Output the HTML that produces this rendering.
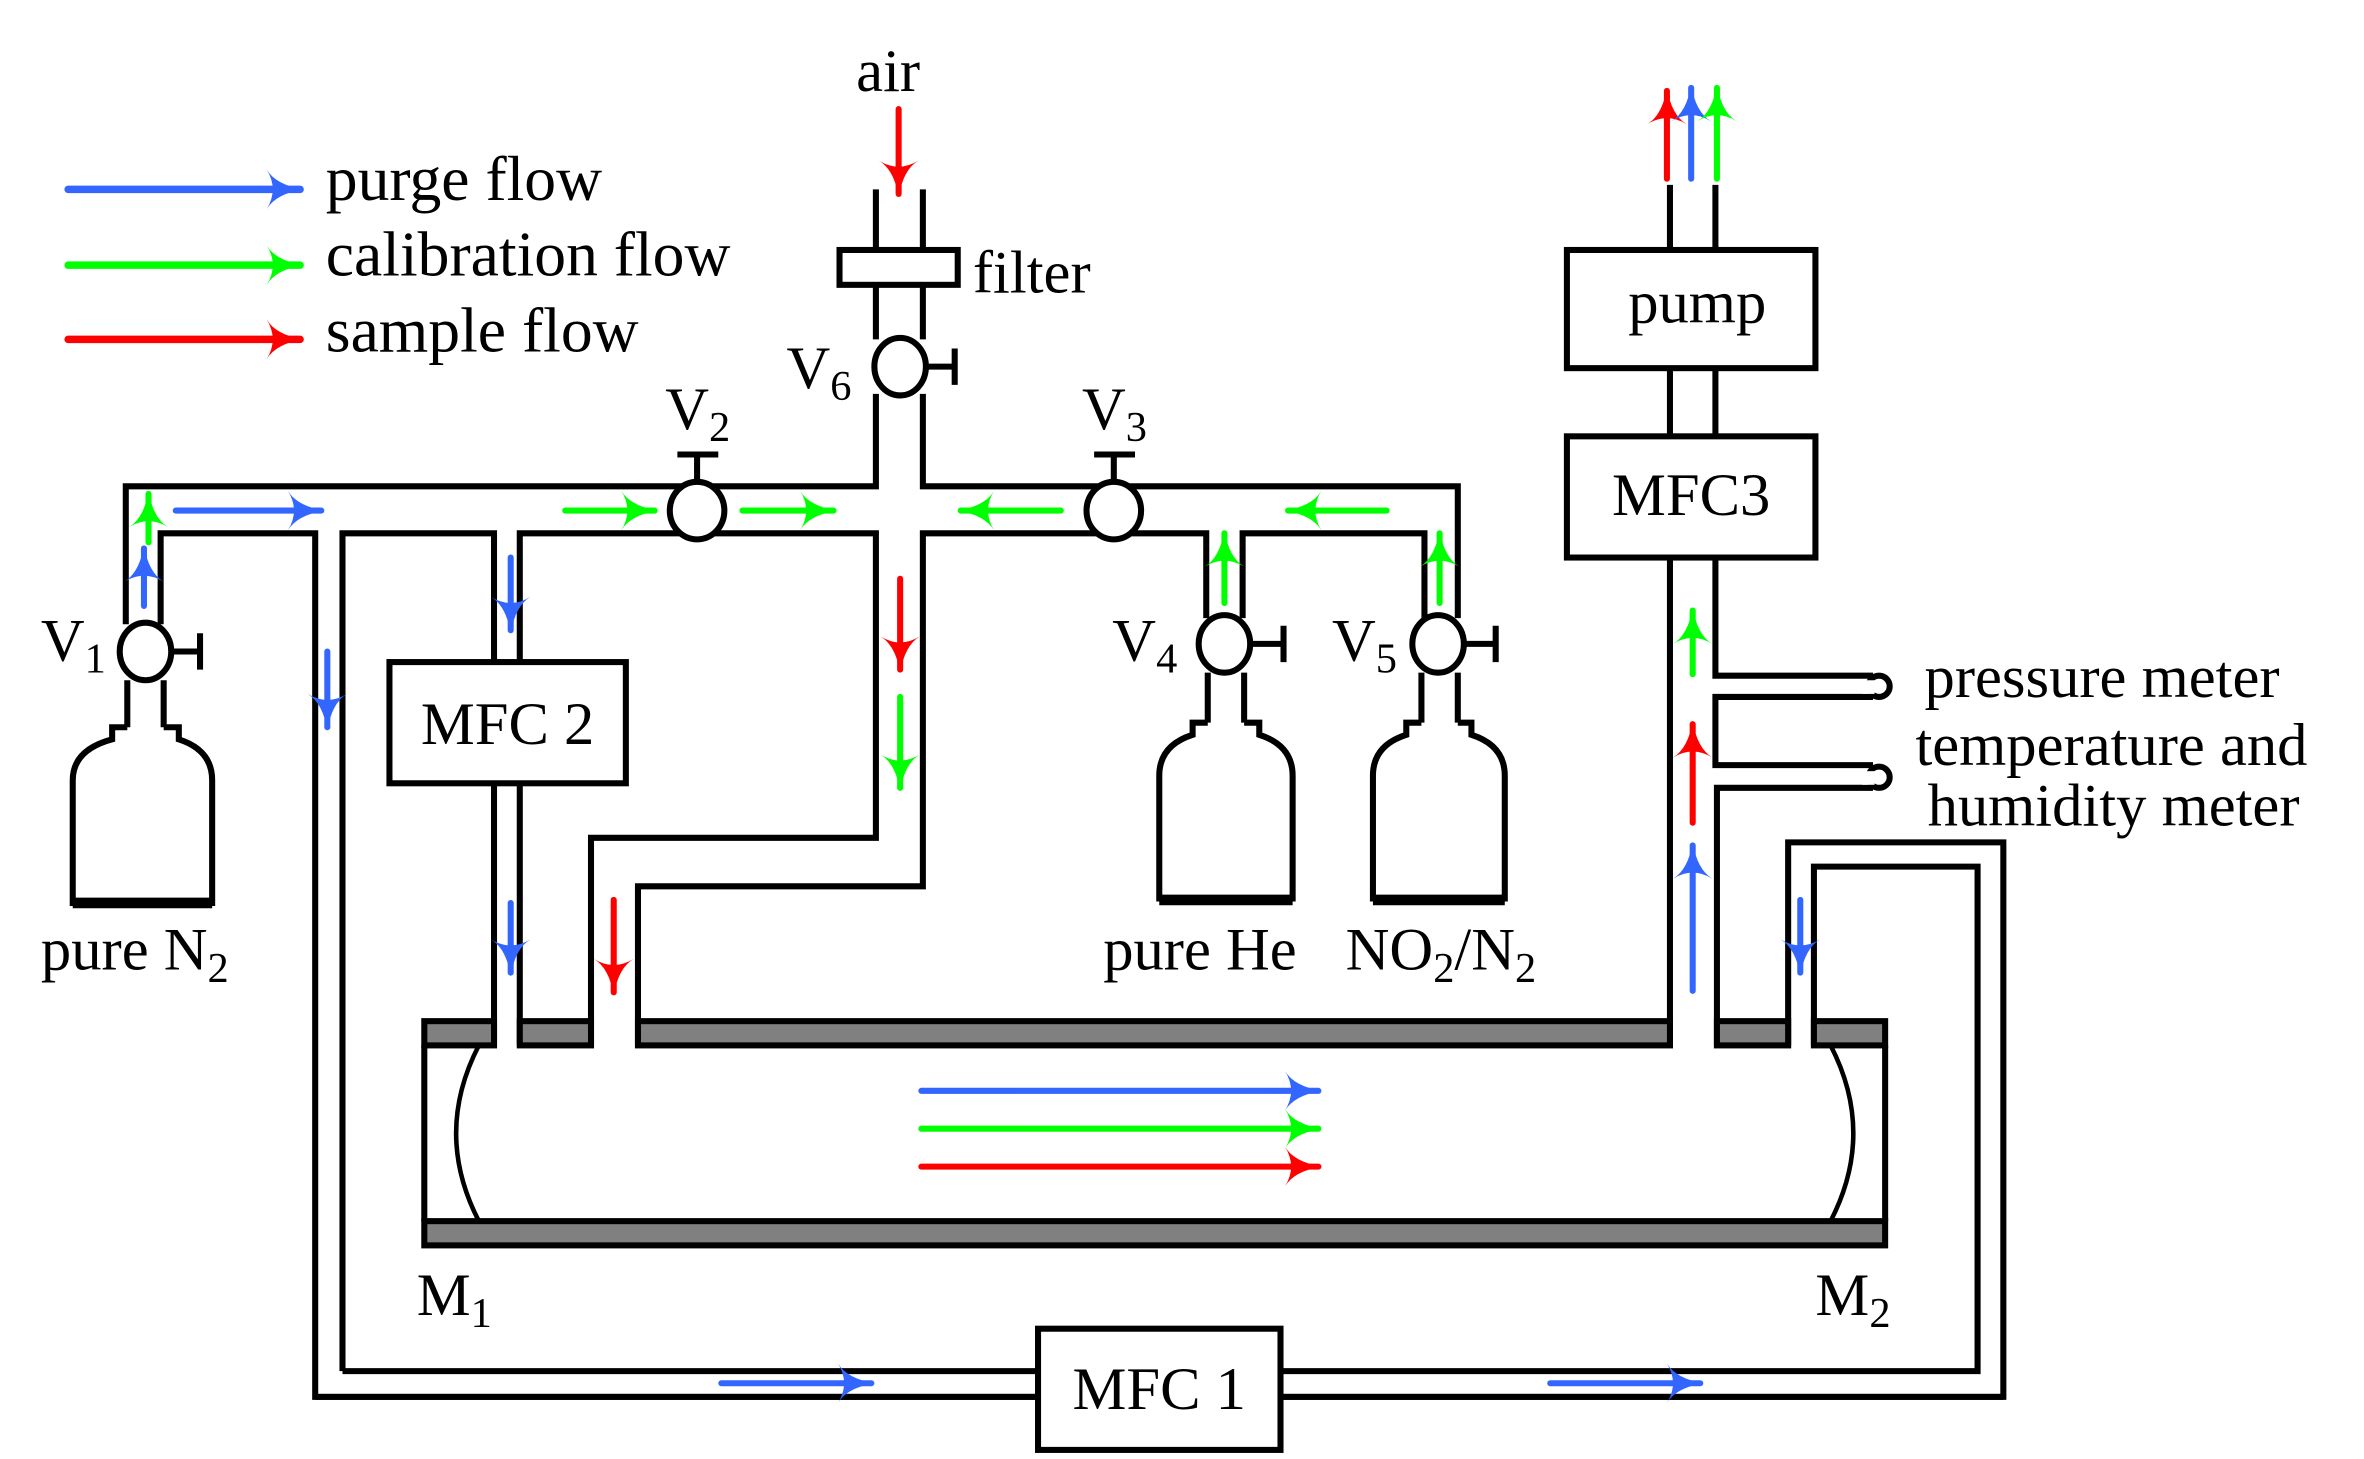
<!DOCTYPE html>
<html><head><meta charset="utf-8"><style>
html,body{margin:0;padding:0;background:#fff;}
svg{display:block;}
text{font-family:"Liberation Serif",serif;fill:#000;}
</style></head><body>
<svg width="2364" height="1459" viewBox="0 0 1560 963" preserveAspectRatio="none" xmlns="http://www.w3.org/2000/svg">
<defs>
<marker id="mb" markerUnits="userSpaceOnUse" markerWidth="30" markerHeight="30" refX="24" refY="15" orient="auto"><path d="M2,2 Q8,12 26,15 Q8,18 2,28 Q10,15 2,2z" fill="#3366ff"/></marker>
<marker id="mg" markerUnits="userSpaceOnUse" markerWidth="30" markerHeight="30" refX="24" refY="15" orient="auto"><path d="M2,2 Q8,12 26,15 Q8,18 2,28 Q10,15 2,2z" fill="#00ff00"/></marker>
<marker id="mr" markerUnits="userSpaceOnUse" markerWidth="30" markerHeight="30" refX="24" refY="15" orient="auto"><path d="M2,2 Q8,12 26,15 Q8,18 2,28 Q10,15 2,2z" fill="#ff0000"/></marker>
<marker id="ms" markerUnits="userSpaceOnUse" markerWidth="24" markerHeight="24" refX="19" refY="12" orient="auto"><path d="M2,2 Q7,10 21,12 Q7,14 2,22 Q8,12 2,2z" fill="context-stroke"/></marker>
</defs>
<g stroke-linecap="round" fill="none">
<line x1="45" y1="125" x2="198" y2="125" stroke="#3366ff" stroke-width="5" marker-end="url(#mb)"/>
<line x1="45" y1="175" x2="198" y2="175" stroke="#00ff00" stroke-width="5" marker-end="url(#mg)"/>
<line x1="45" y1="224" x2="198" y2="224" stroke="#ff0000" stroke-width="5" marker-end="url(#mr)"/>
</g>
<text x="215" y="132" font-size="42">purge flow</text>
<text x="215" y="182" font-size="42">calibration flow</text>
<text x="215" y="232" font-size="42">sample flow</text>
<text x="565" y="60" font-size="40">air</text>
<text x="642" y="193" font-size="40">filter</text>

<g stroke="#000" stroke-width="4" fill="none" stroke-linejoin="miter">
<line x1="578" y1="125" x2="578" y2="165"/><line x1="609" y1="125" x2="609" y2="165"/>
<rect x="554" y="165" width="78" height="23" fill="#fff"/>
<line x1="578" y1="188" x2="578" y2="224"/><line x1="609" y1="188" x2="609" y2="224"/>
<ellipse cx="594" cy="242" rx="17" ry="19" fill="#fff"/>
<line x1="611" y1="242" x2="630" y2="242"/><line x1="630" y1="230" x2="630" y2="254"/>
<polyline points="83,412 83,321 578,321 578,260"/>
<polyline points="609,260 609,321 962,321 962,408"/>
<polyline points="106,412 106,352 208,352 208,922 1322,922 1322,556 1180,556 1180,690"/>
<polyline points="226,905 226,352 326,352 326,437"/>
<polyline points="343,437 343,352 578,352 578,553 390,553 390,690"/>
<polyline points="421,690 421,585 609,585 609,352 796,352 796,408"/>
<polyline points="820,408 820,352 940,352 940,408"/>
<polyline points="226,905 685,905"/><polyline points="845,905 1305,905 1305,572 1197,572 1197,690"/>
<line x1="208" y1="922" x2="685" y2="922"/>
<ellipse cx="460" cy="337" rx="18" ry="19" fill="#fff"/><line x1="460" y1="318" x2="460" y2="300"/><line x1="447" y1="300" x2="474" y2="300"/>
<ellipse cx="735" cy="337" rx="18" ry="19" fill="#fff"/><line x1="735" y1="318" x2="735" y2="300"/><line x1="722" y1="300" x2="749" y2="300"/>
<ellipse cx="96" cy="430" rx="17" ry="19" fill="#fff"/><line x1="113" y1="430" x2="132" y2="430"/><line x1="132" y1="418" x2="132" y2="442"/>
<line x1="84" y1="449" x2="84" y2="480"/><line x1="108" y1="449" x2="108" y2="480"/>
<path d="M84,480 H74 V488 Q48,495 48,515 V596 H140 V515 Q140,495 118,488 V480 H108"/>
<line x1="48" y1="596" x2="140" y2="596" stroke-width="7"/>
<ellipse cx="808" cy="425" rx="17" ry="19" fill="#fff"/><line x1="825" y1="425" x2="847" y2="425"/><line x1="847" y1="413" x2="847" y2="437"/>
<line x1="797" y1="444" x2="797" y2="477"/><line x1="821" y1="444" x2="821" y2="477"/>
<path d="M797,477 H787 V485 Q765,492 765,512 V593 H853 V512 Q853,492 831,485 V477 H821"/>
<line x1="765" y1="594" x2="853" y2="594" stroke-width="7"/>
<ellipse cx="949" cy="425" rx="17" ry="19" fill="#fff"/><line x1="966" y1="425" x2="987" y2="425"/><line x1="987" y1="413" x2="987" y2="437"/>
<line x1="938" y1="444" x2="938" y2="477"/><line x1="962" y1="444" x2="962" y2="477"/>
<path d="M938,477 H928 V485 Q906,492 906,512 V593 H993 V512 Q993,492 971,485 V477 H962"/>
<line x1="906" y1="594" x2="993" y2="594" stroke-width="7"/>
<rect x="257" y="437" width="156" height="80" fill="#fff"/>
<line x1="326" y1="517" x2="326" y2="690"/><line x1="343" y1="517" x2="343" y2="690"/>
<line x1="1102" y1="122" x2="1102" y2="165"/><line x1="1132" y1="122" x2="1132" y2="165"/>
<rect x="1034" y="165" width="164" height="78" fill="#fff"/>
<line x1="1102" y1="243" x2="1102" y2="288"/><line x1="1132" y1="243" x2="1132" y2="288"/>
<rect x="1034" y="288" width="164" height="80" fill="#fff"/>
<line x1="1102" y1="368" x2="1102" y2="690"/>
<polyline points="1132,368 1132,446 1236,446"/>
<polyline points="1236,460 1132,460 1132,505 1236,505"/>
<polyline points="1236,520 1133,520 1133,690"/>
<circle cx="1240" cy="453" r="7" fill="#fff"/>
<circle cx="1240" cy="513" r="7" fill="#fff"/>
<rect x="685" y="877" width="160" height="80" fill="#fff"/>
<line x1="845" y1="922" x2="1322" y2="922"/>
</g>
<rect x="1229" y="449" width="8" height="9" fill="#fff"/>
<rect x="1229" y="509" width="8" height="9" fill="#fff"/>
<g stroke="#000" stroke-width="4">
<rect x="280" y="674" width="46" height="16" fill="#808080"/>
<rect x="343" y="674" width="47" height="16" fill="#808080"/>
<rect x="421" y="674" width="681" height="16" fill="#808080"/>
<rect x="1133" y="674" width="47" height="16" fill="#808080"/>
<rect x="1197" y="674" width="47" height="16" fill="#808080"/>
<rect x="280" y="806" width="964" height="16" fill="#808080"/>
<line x1="280" y1="690" x2="280" y2="806"/><line x1="1244" y1="690" x2="1244" y2="806"/>
</g>
<path d="M316,690 Q286,748 316,806" stroke="#000" stroke-width="3" fill="none"/>
<path d="M1208,690 Q1238,748 1208,806" stroke="#000" stroke-width="3" fill="none"/>

<g stroke-width="4" fill="none" stroke-linecap="round">
<line x1="608" y1="720" x2="870" y2="720" stroke="#3366ff" marker-end="url(#mb)"/>
<line x1="608" y1="745" x2="870" y2="745" stroke="#00ff00" marker-end="url(#mg)"/>
<line x1="608" y1="770" x2="870" y2="770" stroke="#ff0000" marker-end="url(#mr)"/>
<line x1="593" y1="72" x2="593" y2="128" stroke="#ff0000" marker-end="url(#mr)"/>
<line x1="1100" y1="118" x2="1100" y2="60" stroke="#ff0000" marker-end="url(#mr)"/>
<line x1="1116" y1="118" x2="1116" y2="58" stroke="#3366ff" marker-end="url(#mb)"/>
<line x1="1133" y1="118" x2="1133" y2="58" stroke="#00ff00" marker-end="url(#mg)"/>
<line x1="95" y1="400" x2="95" y2="362" stroke="#3366ff" marker-end="url(#mb)"/>
<line x1="98" y1="358" x2="98" y2="326" stroke="#00ff00" marker-end="url(#mg)"/>
<line x1="116" y1="337" x2="212" y2="337" stroke="#3366ff" marker-end="url(#mb)"/>
<line x1="216" y1="430" x2="216" y2="480" stroke="#3366ff" marker-end="url(#mb)"/>
<line x1="337" y1="368" x2="337" y2="416" stroke="#3366ff" marker-end="url(#mb)"/>
<line x1="337" y1="596" x2="337" y2="642" stroke="#3366ff" marker-end="url(#mb)"/>
<line x1="373" y1="337" x2="432" y2="337" stroke="#00ff00" marker-end="url(#mg)"/>
<line x1="490" y1="337" x2="550" y2="337" stroke="#00ff00" marker-end="url(#mg)"/>
<line x1="700" y1="337" x2="634" y2="337" stroke="#00ff00" marker-end="url(#mg)"/>
<line x1="915" y1="337" x2="850" y2="337" stroke="#00ff00" marker-end="url(#mg)"/>
<line x1="594" y1="382" x2="594" y2="442" stroke="#ff0000" marker-end="url(#mr)"/>
<line x1="594" y1="460" x2="594" y2="520" stroke="#00ff00" marker-end="url(#mg)"/>
<line x1="405" y1="594" x2="405" y2="655" stroke="#ff0000" marker-end="url(#mr)"/>
<line x1="808" y1="398" x2="808" y2="352" stroke="#00ff00" marker-end="url(#mg)"/>
<line x1="950" y1="398" x2="950" y2="352" stroke="#00ff00" marker-end="url(#mg)"/>
<line x1="1117" y1="445" x2="1117" y2="403" stroke="#00ff00" marker-end="url(#mg)"/>
<line x1="1117" y1="543" x2="1117" y2="478" stroke="#ff0000" marker-end="url(#mr)"/>
<line x1="1117" y1="654" x2="1117" y2="558" stroke="#3366ff" marker-end="url(#mb)"/>
<line x1="1188" y1="594" x2="1188" y2="642" stroke="#3366ff" marker-end="url(#mb)"/>
<line x1="476" y1="913" x2="575" y2="913" stroke="#3366ff" marker-end="url(#mb)"/>
<line x1="1023" y1="913" x2="1122" y2="913" stroke="#3366ff" marker-end="url(#mb)"/>
</g>

<text x="27" y="436" font-size="40">V<tspan font-size="28" dy="8">1</tspan></text>
<text x="439" y="283" font-size="40">V<tspan font-size="28" dy="8">2</tspan></text>
<text x="714" y="283" font-size="40">V<tspan font-size="28" dy="8">3</tspan></text>
<text x="734" y="436" font-size="40">V<tspan font-size="28" dy="8">4</tspan></text>
<text x="879" y="436" font-size="40">V<tspan font-size="28" dy="8">5</tspan></text>
<text x="519" y="256" font-size="40">V<tspan font-size="28" dy="8">6</tspan></text>
<text x="27" y="640" font-size="40">pure N<tspan font-size="28" dy="8">2</tspan></text>
<text x="728" y="640" font-size="40">pure He</text>
<text x="888" y="640" font-size="40">NO<tspan font-size="28" dy="8">2</tspan><tspan dy="-8">/N</tspan><tspan font-size="28" dy="8">2</tspan></text>
<text x="335" y="491" font-size="40" text-anchor="middle">MFC 2</text>
<text x="765" y="930" font-size="40" text-anchor="middle">MFC 1</text>
<text x="1116" y="340" font-size="40" text-anchor="middle">MFC3</text>
<text x="1120" y="213" font-size="40" text-anchor="middle">pump</text>
<text x="275" y="868" font-size="40">M<tspan font-size="28" dy="8">1</tspan></text>
<text x="1198" y="868" font-size="40">M<tspan font-size="28" dy="8">2</tspan></text>
<text x="1270" y="460" font-size="40">pressure meter</text>
<text x="1264" y="505" font-size="40">temperature and</text>
<text x="1272" y="545" font-size="40">humidity meter</text>
</svg>
</body></html>
